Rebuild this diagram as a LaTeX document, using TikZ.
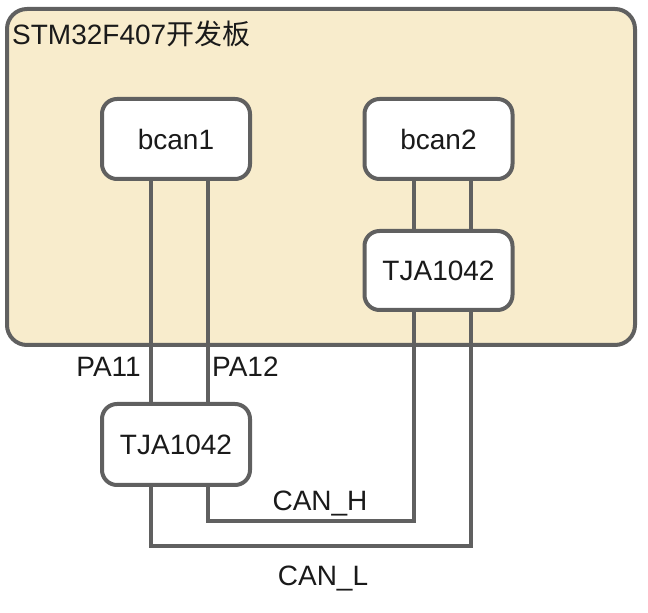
\documentclass[tikz,border=0pt]{standalone}
\usepackage{fontspec}
\setmainfont{Liberation Sans}
\newfontfamily\cjk{Noto Sans CJK SC}
\definecolor{boardfill}{RGB}{248,236,204}
\definecolor{edge}{RGB}{96,96,96}
\definecolor{txt}{RGB}{26,26,26}
\begin{document}
\begin{tikzpicture}[x=1pt,y=1pt,
  every node/.style={font=\fontsize{28}{32}\selectfont, text=txt},
  chip/.style={draw=edge, line width=4pt, fill=white, rounded corners=15pt,
    minimum width=148pt, minimum height=80pt, inner sep=0pt},
  wire/.style={draw=edge, line width=4pt}]
\useasboundingbox (0,0) rectangle (648,613);
% board
\node[draw=edge, line width=4pt, fill=boardfill, rounded corners=20pt,
  minimum width=628pt, minimum height=336pt, inner sep=0pt] (board) at (321,436) {};
\node[anchor=base west, inner sep=0pt] (title) at (12,568) {STM32F407{\cjk 开发板}};
% chips
\node[chip] (bcan1) at (176,474) {bcan1};
\node[chip] (bcan2) at (438.5,474) {bcan2};
\node[chip, minimum height=79pt] (tjaR) at (438.5,342.5) {TJA1042};
\node[chip, minimum height=81pt] (tjaL) at (176,168.5) {TJA1042};
% reference coordinates
\coordinate (xa) at (151,0);
\coordinate (xb) at (208,0);
\coordinate (xc) at (414,0);
\coordinate (xd) at (471,0);
\coordinate (yh) at (0,92);
\coordinate (yl) at (0,67);
% wires
\draw[wire] (bcan1.south -| xa) -- (tjaL.north -| xa);
\draw[wire] (bcan1.south -| xb) -- (tjaL.north -| xb);
\draw[wire] (bcan2.south -| xc) -- (tjaR.north -| xc);
\draw[wire] (bcan2.south -| xd) -- (tjaR.north -| xd);
\draw[wire] (tjaR.south -| xc) -- (xc |- yh) -- (xb |- yh) -- (tjaL.south -| xb);
\draw[wire] (tjaR.south -| xd) -- (xd |- yl) -- (xa |- yl) -- (tjaL.south -| xa);
% labels
\node[anchor=base east, inner sep=0pt] (pa11) at (141,236) {PA11};
\node[anchor=base west, inner sep=0pt] (pa12) at (212,236) {PA12};
\node[anchor=base, inner sep=0pt] (canh) at (320,102) {CAN\_H};
\node[anchor=base, inner sep=0pt] (canl) at (323,27) {CAN\_L};
\end{tikzpicture}
\end{document}
